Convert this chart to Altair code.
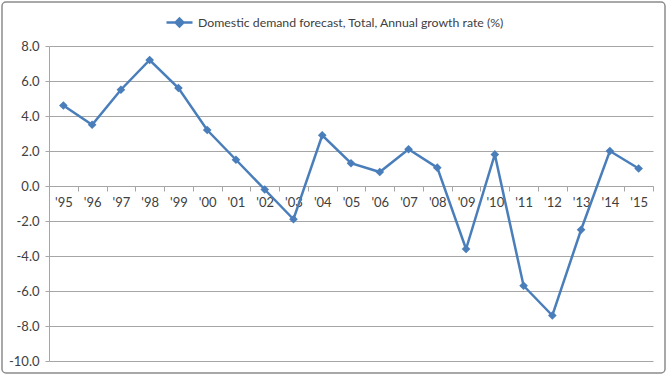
import altair as alt
import pandas as pd

years = ["'95", "'96", "'97", "'98", "'99", "'00", "'01", "'02", "'03", "'04",
         "'05", "'06", "'07", "'08", "'09", "'10", "'11", "'12", "'13", "'14", "'15"]
values = [4.6, 3.5, 5.5, 7.2, 5.6, 3.2, 1.5, -0.2, -1.9, 2.9,
          1.3, 0.8, 2.1, 1.05, -3.6, 1.8, -5.7, -7.4, -2.5, 2.0, 1.0]
series_name = "Domestic demand forecast, Total, Annual growth rate (%)"
y_ticks = [-10, -8, -6, -4, -2, 0, 2, 4, 6, 8]
y_min, y_max = -10, 8

W, H = 604, 315
LINE = "#4A7EBB"
GRID = "#A6A6A6"
TEXT = "#404040"
FONT = "Lato"

df = pd.DataFrame({"year": years, "value": values, "series": series_name})

zero_from_top = H * (y_max - 0) / (y_max - y_min)
x_offset = -(H - zero_from_top)

x_enc = alt.X(
    "year:N", sort=years, bandPosition=0.5,
    scale=alt.Scale(type="band", paddingInner=0, paddingOuter=0),
    axis=alt.Axis(title=None, labelAngle=0, tickBand="extent", offset=x_offset,
                  domainColor=GRID, tickColor=GRID, tickSize=5, labelPadding=5,
                  grid=False, labelFontSize=13, labelColor=TEXT, labelFont=FONT),
)
y_enc = alt.Y(
    "value:Q",
    scale=alt.Scale(domain=[y_min, y_max], nice=False, zero=False),
    axis=alt.Axis(values=y_ticks, title=None, grid=True, gridColor=GRID,
                  domainColor=GRID, tickColor=GRID, tickSize=4, labelPadding=6,
                  labelExpr="(datum.value < 0 ? '-' : '') + format(abs(datum.value), '.1f')",
                  labelFontSize=13, labelColor=TEXT, labelFont=FONT),
)

base = alt.Chart(df)

line = base.mark_line(strokeWidth=2.5).encode(
    x=x_enc, y=y_enc,
    color=alt.Color(
        "series:N",
        scale=alt.Scale(range=[LINE]),
        legend=alt.Legend(
            title=None, orient="none", legendX=116, legendY=-38,
            symbolType="M-1,0L1,0M0,-0.3L0.3,0L0,0.3L-0.3,0Z",
            symbolSize=676, symbolStrokeWidth=2.5, labelOffset=4,
            symbolFillColor=LINE, symbolStrokeColor=LINE,
            labelFontSize=12.3, labelColor=TEXT, labelFont=FONT, labelLimit=500,
        ),
    ),
)
points = base.mark_point(shape="diamond", filled=True, size=75, color=LINE, opacity=1).encode(
    x=x_enc, y=y_enc
)

border = alt.Chart(pd.DataFrame({"a": [0]})).mark_rect(
    fill="transparent", stroke="#8C8C8C", strokeWidth=1.5, cornerRadius=4
).encode(x=alt.value(-47), x2=alt.value(616), y=alt.value(-44), y2=alt.value(327))

chart = alt.layer(border, line, points).properties(
    width=W, height=H,
    autosize=alt.AutoSizeParams(type="none"),
    padding={"left": 49, "top": 46, "right": 15, "bottom": 16},
    background="white",
).configure_view(stroke=None)

chart.save("out.html", embed_options={"renderer": "svg", "actions": False})
